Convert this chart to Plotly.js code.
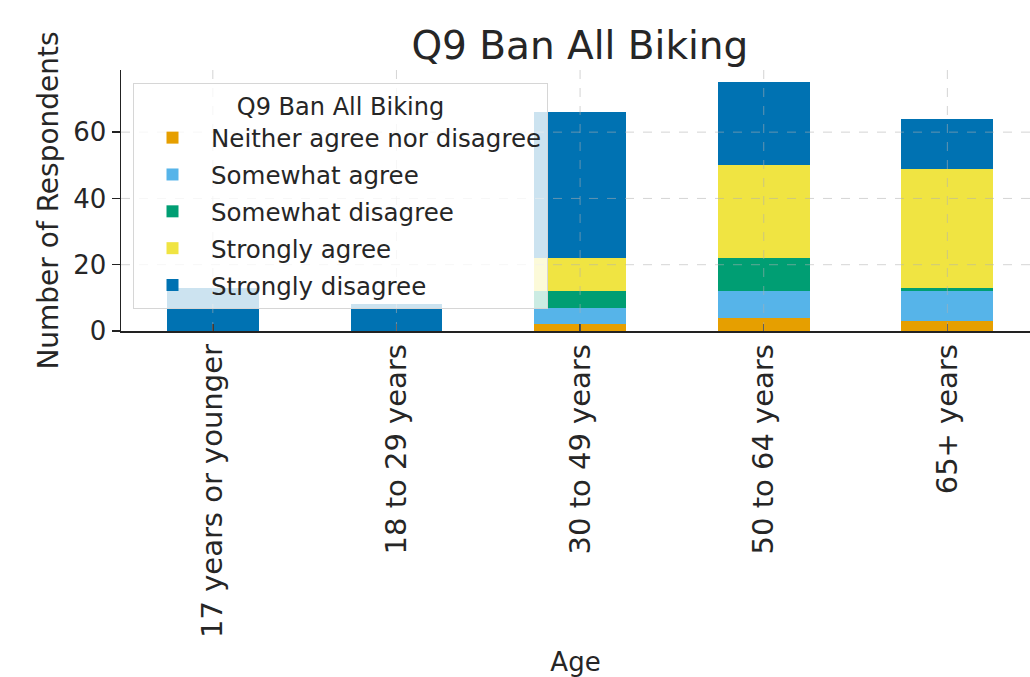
<!DOCTYPE html>
<html>
<head>
<meta charset="utf-8">
<script src="https://cdn.plot.ly/plotly-3.0.1.min.js"></script>
<style>html,body{margin:0;padding:0;background:#fff;overflow:hidden}</style>
</head>
<body>
<div id="chart" style="width:1030px;height:677px"></div>
<script>
const ageGroups = ["17 years or younger", "18 to 29 years", "30 to 49 years", "50 to 64 years", "65+ years"];
const neitherAgreeNorDisagree = [0, 0, 2, 4, 3];
const somewhatAgree = [0, 0, 5, 8, 9];
const somewhatDisagree = [0, 0, 5, 10, 1];
const stronglyAgree = [0, 0, 10, 28, 36];
const stronglyDisagree = [13, 8, 44, 25, 15];
const yTicks = [0, 20, 40, 60];

const seriesNames = ["Neither agree nor disagree", "Somewhat agree", "Somewhat disagree", "Strongly agree", "Strongly disagree"];
const seriesValues = [neitherAgreeNorDisagree, somewhatAgree, somewhatDisagree, stronglyAgree, stronglyDisagree];
const seriesColors = ["#E69F00", "#56B4E9", "#009E73", "#F0E442", "#0072B2"];

const textColor = "#262626";
const font = "DejaVu Sans, sans-serif";

const traces = seriesNames.map((name, i) => ({
  type: "bar",
  name: name,
  legendgroup: "g" + i,
  x: ageGroups,
  y: seriesValues[i],
  width: 0.5,
  marker: { color: seriesColors[i], line: { width: 0 } },
  hoverinfo: "x+y+name"
}));

const gridColor = "rgba(176,176,176,0.55)";
const shapes = [];
yTicks.filter(v => v > 0).forEach(v => {
  shapes.push({ type: "line", xref: "paper", yref: "y", x0: 0, x1: 1, y0: v, y1: v, layer: "above",
    line: { color: gridColor, width: 1, dash: "dash" } });
});
ageGroups.forEach(g => {
  shapes.push({ type: "line", xref: "x", yref: "paper", x0: g, x1: g, y0: 0, y1: 1, layer: "above",
    line: { color: gridColor, width: 1, dash: "dash" } });
});

const layout = {
  width: 1030,
  height: 677,
  margin: { l: 121, r: 0, t: 70, b: 346 },
  paper_bgcolor: "#ffffff",
  plot_bgcolor: "#ffffff",
  barmode: "stack",
  font: { family: font, color: textColor, size: 24 },
  title: {
    text: "Q9 Ban All Biking",
    font: { family: font, size: 39, color: textColor },
    x: 0.563, xanchor: "center", xref: "container",
    y: 1 - 45 / 677, yanchor: "middle", yref: "container"
  },
  xaxis: {
    type: "category",
    range: [-0.5, 4.45],
    tickangle: -90,
    tickfont: { family: font, size: 29, color: textColor },
    ticks: "inside", ticklen: 7, tickwidth: 1.5, tickcolor: "#222",
    showline: true, linecolor: "#222", linewidth: 1.5,
    showgrid: false, zeroline: false,
    automargin: false,
    title: { text: "Age", font: { family: font, size: 26, color: textColor }, standoff: 28 }
  },
  yaxis: {
    range: [0, 78.75],
    tickvals: yTicks,
    tickfont: { family: font, size: 26, color: textColor },
    ticks: "outside", ticklen: 8, tickwidth: 1.5, tickcolor: "#222",
    showline: true, linecolor: "#222", linewidth: 1.5,
    showgrid: false, zeroline: false,
    automargin: false,
    title: { text: "Number of Respondents", font: { family: font, size: 28, color: textColor }, standoff: 6 }
  },
  shapes: shapes,
  legend: {
    x: (133 - 121) / 909, xanchor: "left",
    y: (331 - 83) / 261, yanchor: "top",
    traceorder: "grouped",
    tracegroupgap: 2,
    bgcolor: "rgba(255,255,255,0.8)",
    bordercolor: "#d6d6d6", borderwidth: 1,
    font: { family: font, size: 24.5, color: textColor },
    title: { text: "Q9 Ban All Biking", side: "top center", font: { family: font, size: 24, color: textColor } },
    itemwidth: 67
  },
  showlegend: true
};

Plotly.newPlot("chart", traces, layout, { displayModeBar: false, staticPlot: true });
</script>
</body>
</html>
